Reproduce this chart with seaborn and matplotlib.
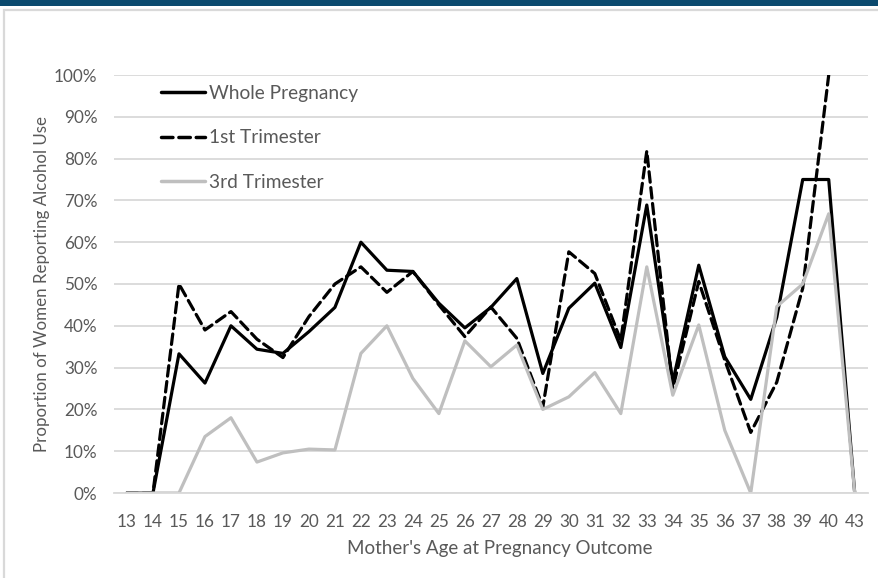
import numpy as np
import pandas as pd
import matplotlib
matplotlib.use("Agg")
import matplotlib.pyplot as plt
from matplotlib.patches import Rectangle
from matplotlib.ticker import PercentFormatter, MultipleLocator
import seaborn as sns

# Mother's age at pregnancy outcome (categorical; no cases at 41-42)
ages = ["13", "14", "15", "16", "17", "18", "19", "20", "21", "22", "23", "24", "25",
        "26", "27", "28", "29", "30", "31", "32", "33", "34", "35", "36", "37", "38",
        "39", "40", "43"]

# Percent of women reporting alcohol use
whole_pregnancy = [0, 0, 33.3, 26.3, 40.0, 34.4, 33.4, 38.6, 44.4, 60.0, 53.3, 53.0, 45.4,
                   39.5, 44.4, 51.3, 28.6, 44.2, 50.2, 34.8, 68.9, 26.6, 54.5, 32.6, 22.4,
                   42.0, 75.0, 75.0, 0]
first_trimester = [0, 0, 50.0, 39.0, 43.4, 36.8, 32.4, 42.2, 50.0, 54.1, 48.0, 53.0, 45.0,
                   37.4, 44.5, 37.0, 20.6, 57.7, 52.5, 36.5, 81.8, 25.0, 50.6, 31.8, 14.5,
                   26.5, 49.0, 100.0, np.nan]
third_trimester = [0, 0, 0, 13.5, 18.0, 7.4, 9.6, 10.5, 10.3, 33.4, 40.0, 27.4, 19.0,
                   36.4, 30.2, 35.4, 20.0, 23.0, 28.8, 19.0, 54.1, 23.4, 40.2, 15.0, 0,
                   44.6, 50.0, 66.8, 0]

series_names = ["Whole Pregnancy", "1st Trimester", "3rd Trimester"]
series_values = [whole_pregnancy, first_trimester, third_trimester]

pos = np.arange(len(ages))
df = pd.concat(
    [pd.DataFrame({"pos": pos, "age": ages, "pct": vals, "series": name})
     for name, vals in zip(series_names, series_values)],
    ignore_index=True,
)

sns.set_theme(style="white")
plt.rcParams["font.family"] = ["Lato", "DejaVu Sans"]

TEXT = "#595959"
GRID = "#d9d9d9"

W, H = 879, 578
fig = plt.figure(figsize=(W / 100, H / 100), dpi=100)

# header strip and outer chart frame
fig.patches.append(Rectangle((0, 1 - 6 / H), 1, 6 / H, transform=fig.transFigure,
                             facecolor="#0b4a6e", edgecolor="none", zorder=0))
fig.patches.append(Rectangle((4.5 / W, -0.05), 1.1, 1 - 10 / H + 0.05,
                             transform=fig.transFigure, facecolor="none",
                             edgecolor=GRID, linewidth=1.6, zorder=0))

left, right, top, bottom = 114, 867.7, 75, 493
ax = fig.add_axes([left / W, 1 - bottom / H, (right - left) / W, (bottom - top) / H])

palette = {"Whole Pregnancy": "#000000", "1st Trimester": "#000000",
           "3rd Trimester": "#bfbfbf"}
dashes = {"Whole Pregnancy": "", "1st Trimester": (3.3, 1.7), "3rd Trimester": ""}

sns.lineplot(data=df, x="pos", y="pct", hue="series", style="series",
             hue_order=series_names, style_order=series_names,
             palette=palette, dashes=dashes, linewidth=2.3, sort=False,
             ax=ax, legend=True)

for ln in ax.get_lines():
    ln.set_dash_capstyle("round")
    ln.set_solid_joinstyle("round")

ax.set_xlim(-0.5, len(ages) - 0.5)
ax.set_ylim(0, 100)
ax.set_xticks(pos)
ax.set_xticklabels(ages)
ax.yaxis.set_major_locator(MultipleLocator(10))
ax.yaxis.set_major_formatter(PercentFormatter(100, decimals=0))
ax.grid(axis="y", color=GRID, linewidth=1.3)
ax.set_axisbelow(True)
for side in ["top", "right", "left"]:
    ax.spines[side].set_visible(False)
ax.spines["bottom"].set_color(GRID)
ax.spines["bottom"].set_linewidth(1.3)
ax.tick_params(axis="both", length=0, colors=TEXT, labelsize=12.3)
ax.tick_params(axis="y", pad=12)
ax.tick_params(axis="x", pad=15)

ax.set_xlabel("Mother's Age at Pregnancy Outcome", color=TEXT, fontsize=13.5)
ax.set_ylabel("Proportion of Women Reporting Alcohol Use", color=TEXT, fontsize=12.2)
ax.xaxis.set_label_coords(0.5115, -0.112)
ax.yaxis.set_label_coords(-0.085, 0.5)

leg = ax.legend(loc="upper left", bbox_to_anchor=(0.039, 1.017), frameon=False,
                fontsize=13.8, handlelength=2.3, handletextpad=0.2,
                labelspacing=1.42, title=None)
for txt in leg.get_texts():
    txt.set_color(TEXT)
for h in leg.get_lines():
    h.set_linewidth(2.5)

fig.savefig("out.png", dpi=100)
